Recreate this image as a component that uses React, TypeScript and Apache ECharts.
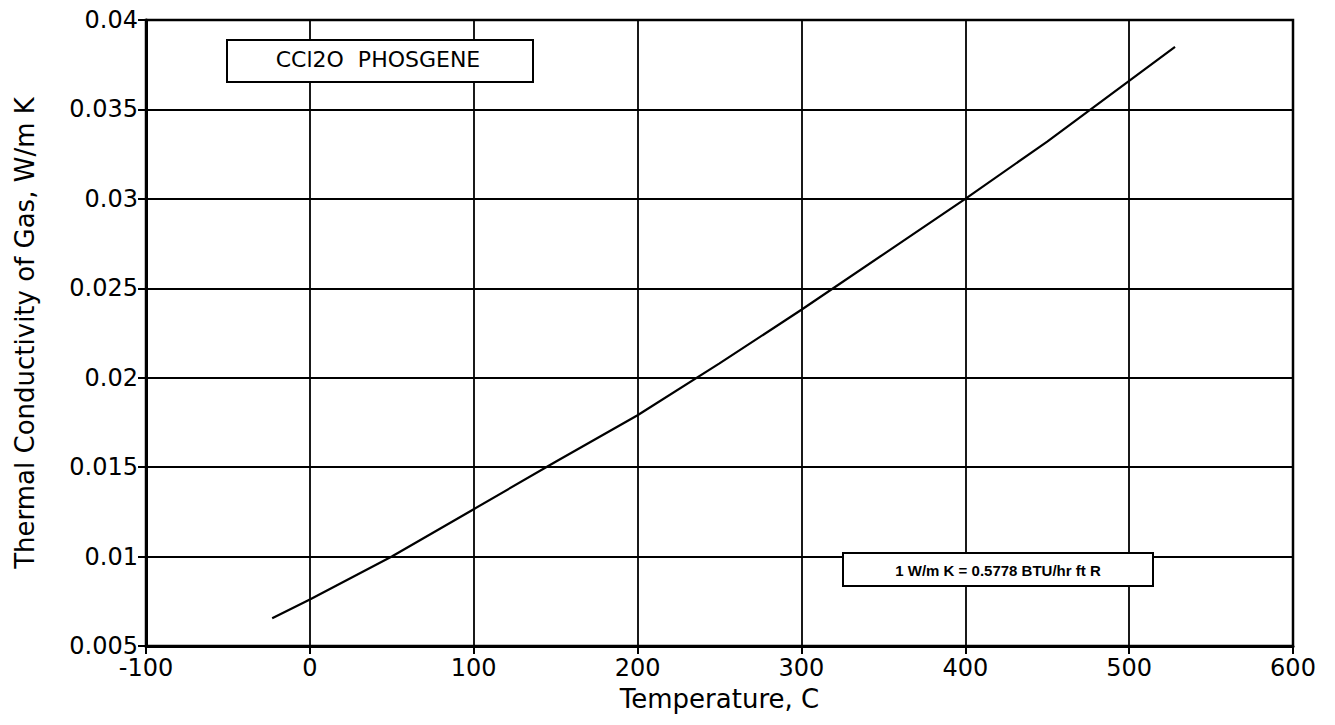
import React, { useEffect, useRef } from "react";
import * as echarts from "echarts";

const temperatures = [-23, 0, 50, 100, 150, 200, 250, 300, 350, 400, 450, 500, 528];
const conductivity = [0.00655, 0.0076, 0.0100, 0.01265, 0.0153, 0.0179, 0.0208, 0.0238, 0.0269, 0.0300, 0.0332, 0.0366, 0.0385];
const xTicks = [-100, 0, 100, 200, 300, 400, 500, 600];
const yTicks = [0.005, 0.01, 0.015, 0.02, 0.025, 0.03, 0.035, 0.04];
const titleText = "CCl2O  PHOSGENE";
const noteText = "1 W/m K = 0.5778 BTU/hr ft R";

const FONT = "'DejaVu Sans', 'Liberation Sans', Arial, sans-serif";
const NOTE_FONT = "'Liberation Sans', Arial, Helvetica, sans-serif";

export default function App() {
  const ref = useRef<HTMLDivElement>(null);
  useEffect(() => {
    document.body.style.margin = "0";
    const chart = echarts.init(ref.current!, null, { renderer: "svg" });
    const data = temperatures.map((t, i) => [t, conductivity[i]]);
    chart.setOption({
      animation: false,
      backgroundColor: "#ffffff",
      grid: {
        left: 146,
        top: 20,
        width: 1147,
        height: 626,
        containLabel: false,
        show: true,
        borderColor: "#000",
        borderWidth: 2.5,
        backgroundColor: "transparent",
      },
      xAxis: {
        type: "value",
        min: xTicks[0],
        max: xTicks[xTicks.length - 1],
        interval: 100,
        name: "Temperature, C",
        nameLocation: "middle",
        nameGap: 40,
        nameTextStyle: { fontFamily: FONT, fontSize: 26, color: "#000" },
        axisLine: { show: true, onZero: false, lineStyle: { color: "#000", width: 3 } },
        axisTick: { show: true, length: 8, lineStyle: { color: "#000", width: 2 } },
        axisLabel: { fontFamily: FONT, fontSize: 24, lineHeight: 20, color: "#000", margin: 12 },
        splitLine: { show: true, lineStyle: { color: "#000", width: 1.8 } },
      },
      yAxis: {
        type: "value",
        min: yTicks[0],
        max: yTicks[yTicks.length - 1],
        interval: 0.005,
        name: "Thermal Conductivity of Gas, W/m K",
        nameLocation: "middle",
        nameGap: 108,
        nameTextStyle: { fontFamily: FONT, fontSize: 26, color: "#000" },
        axisLine: { show: true, onZero: false, lineStyle: { color: "#000", width: 3 } },
        axisTick: { show: true, length: 8, lineStyle: { color: "#000", width: 2 } },
        axisLabel: {
          fontFamily: FONT,
          fontSize: 24,
          lineHeight: 20,
          color: "#000",
          margin: 8,
          formatter: (v: number) => String(+v.toFixed(3)),
        },
        splitLine: { show: true, lineStyle: { color: "#000", width: 1.8 } },
      },
      graphic: [
        {
          type: "rect",
          shape: { x: 227, y: 40, width: 306, height: 42 },
          style: { fill: "#fff", stroke: "#000", lineWidth: 2 },
          z: 100,
        },
        {
          type: "text",
          x: 378,
          y: 59,
          style: { text: titleText, fontFamily: FONT, fontSize: 22, fill: "#000", align: "center", verticalAlign: "middle" },
          z: 101,
        },
        {
          type: "rect",
          shape: { x: 843, y: 553, width: 310, height: 33 },
          style: { fill: "#fff", stroke: "#000", lineWidth: 2 },
          z: 100,
        },
        {
          type: "text",
          x: 998,
          y: 570,
          style: { text: noteText, fontFamily: NOTE_FONT, fontSize: 15, fontWeight: "bold", fill: "#000", align: "center", verticalAlign: "middle" },
          z: 101,
        },
      ],
      series: [
        {
          type: "line",
          data,
          showSymbol: false,
          smooth: false,
          lineStyle: { color: "#000", width: 2.2 },
          z: 5,
        },
      ],
    });
    return () => chart.dispose();
  }, []);
  return <div ref={ref} style={{ width: 1335, height: 725 }} />;
}
